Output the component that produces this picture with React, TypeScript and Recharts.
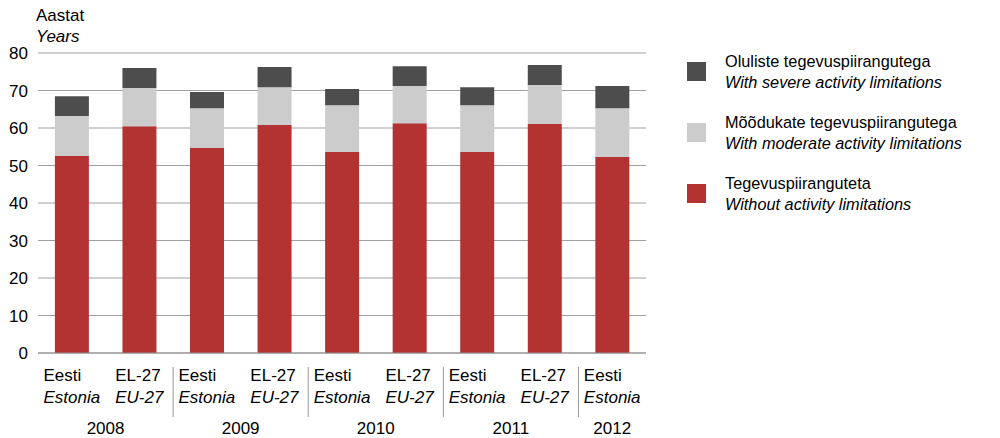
import { BarChart, Bar, XAxis, YAxis, CartesianGrid } from 'recharts';

const years = ['2008', '2008', '2009', '2009', '2010', '2010', '2011', '2011', '2012'];
const regionEt = ['Eesti', 'EL-27', 'Eesti', 'EL-27', 'Eesti', 'EL-27', 'Eesti', 'EL-27', 'Eesti'];
const regionEn = ['Estonia', 'EU-27', 'Estonia', 'EU-27', 'Estonia', 'EU-27', 'Estonia', 'EU-27', 'Estonia'];

const withoutLimits = [52.6, 60.5, 54.7, 60.8, 53.6, 61.3, 53.6, 61.1, 52.3];
const moderateLimits = [10.6, 10.2, 10.6, 10.1, 12.5, 9.9, 12.5, 10.4, 13.0];
const severeLimits = [5.3, 5.3, 4.3, 5.4, 4.3, 5.3, 4.8, 5.3, 5.9];

const yTicks = [0, 10, 20, 30, 40, 50, 60, 70, 80];

const legendItems = [
  { et: 'Oluliste tegevuspiirangutega', en: 'With severe activity limitations', color: '#4d4d4d' },
  { et: 'Mõõdukate tegevuspiirangutega', en: 'With moderate activity limitations', color: '#cccccc' },
  { et: 'Tegevuspiiranguteta', en: 'Without activity limitations', color: '#b33232' },
];

const data = years.map((y, i) => ({
  key: y + '-' + regionEt[i],
  without: withoutLimits[i],
  moderate: moderateLimits[i],
  severe: severeLimits[i],
}));

const FONT = 'Liberation Sans, Arial, sans-serif';

function CategoryTick(props: any) {
  const { x, y, payload } = props;
  const i = payload.index;
  const half = payload.offset || 0;
  const last = i === years.length - 1;
  const yearX = i % 2 === 0 ? (last ? x : x + half) : null;
  return (
    <g fontFamily={FONT} fontSize={17} fill="#000">
      {/* two-line label: left-aligned block, centred under the bar */}
      <foreignObject x={x - 50} y={y + 4} width={100} height={46}>
        <div style={{ display: 'flex', justifyContent: 'center', fontFamily: FONT, fontSize: 17, lineHeight: '22px' }}>
          <div style={{ textAlign: 'left' }}>
            <div>{regionEt[i]}</div>
            <div style={{ fontStyle: 'italic' }}>{regionEn[i]}</div>
          </div>
        </div>
      </foreignObject>
      {yearX !== null && (
        <text x={yearX} y={y + 73} textAnchor="middle">{years[i]}</text>
      )}
      {i % 2 === 0 && i > 0 && (
        <line x1={x - half} x2={x - half} y1={y + 6} y2={y + 56} stroke="#999999" strokeWidth={1} />
      )}
    </g>
  );
}

function LegendBox() {
  return (
    <div style={{ position: 'absolute', left: 687, top: 41, fontFamily: FONT, fontSize: 16.3, color: '#000' }}>
      {legendItems.map((it) => (
        <div key={it.et} style={{ display: 'flex', alignItems: 'center', height: 61 }}>
          <div style={{ width: 19, height: 19, background: it.color, marginRight: 19 }} />
          <div style={{ lineHeight: '21px' }}>
            <div>{it.et}</div>
            <div style={{ fontStyle: 'italic' }}>{it.en}</div>
          </div>
        </div>
      ))}
    </div>
  );
}

export default function App() {
  return (
    <div style={{ position: 'relative', width: 1000, height: 438, background: '#fff' }}>
      <style>{'body{margin:0}'}</style>
      <div style={{ position: 'absolute', left: 36, top: 5, fontFamily: FONT, fontSize: 17, lineHeight: '21px' }}>
        <div>Aastat</div>
        <div style={{ fontStyle: 'italic' }}>Years</div>
      </div>
      <LegendBox />
      <BarChart
        width={1000}
        height={438}
        data={data}
        margin={{ top: 53, right: 354, bottom: 0, left: 0 }}
        barCategoryGap="25%"
      >
        <CartesianGrid vertical={false} stroke="#a0a0a0" />
        <XAxis
          dataKey="key"
          interval={0}
          tickLine={false}
          axisLine={{ stroke: '#909090' }}
          tick={<CategoryTick />}
          height={85}
        />
        <YAxis
          width={38}
          domain={[0, 80]}
          ticks={yTicks}
          axisLine={false}
          tickLine={false}
          tickMargin={4}
          tick={{ fontFamily: FONT, fontSize: 17, fill: '#000' }}
        />
        <Bar dataKey="without" stackId="a" fill="#b33232" isAnimationActive={false} />
        <Bar dataKey="moderate" stackId="a" fill="#cccccc" isAnimationActive={false} />
        <Bar dataKey="severe" stackId="a" fill="#4d4d4d" isAnimationActive={false} />
      </BarChart>
    </div>
  );
}
